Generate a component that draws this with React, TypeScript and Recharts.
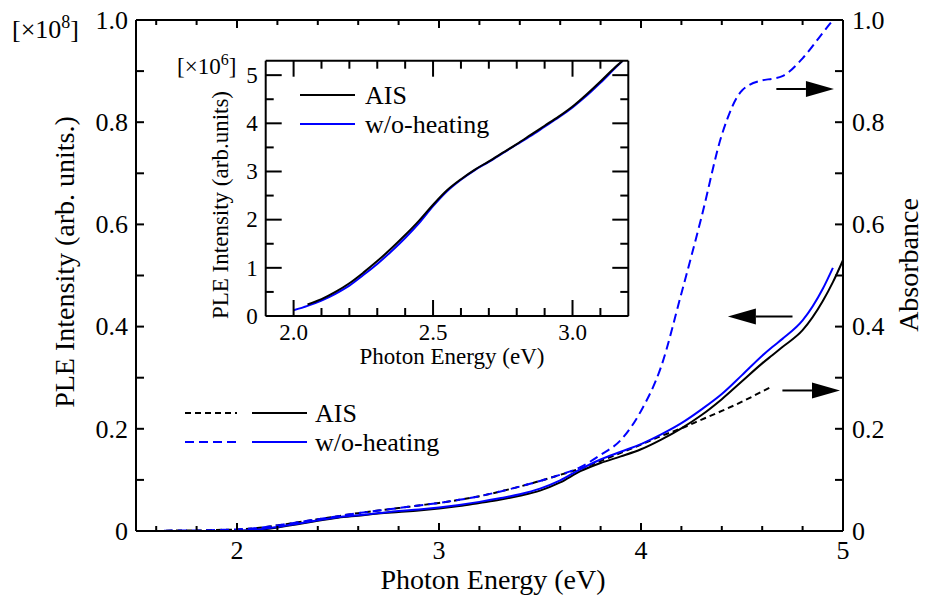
import React from 'react';
import { LineChart, Line, XAxis, YAxis, ReferenceLine } from 'recharts';

// main panel: photon energy (eV)
const energy = [1.5, 1.6, 1.7, 1.8, 1.9, 2.0, 2.1, 2.2, 2.3, 2.4, 2.5, 2.6, 2.7, 2.8, 2.9, 3.0, 3.1, 3.2, 3.3, 3.4, 3.5, 3.6, 3.7, 3.8, 3.9, 4.0, 4.1, 4.2, 4.3, 4.4, 4.5, 4.6, 4.65, 4.7, 4.8, 4.9, 4.95, 5.0];

// absorbance (dashed)
const aisAbs = [0, 0, 0.001, 0.001, 0.002, 0.003, 0.006, 0.011, 0.017, 0.023, 0.029, 0.035, 0.04, 0.045, 0.05, 0.055, 0.061, 0.068, 0.077, 0.087, 0.098, 0.11, 0.122, 0.137, 0.153, 0.169, 0.186, 0.201, 0.218, 0.235, 0.253, 0.273, 0.283, null, null, null, null, null];
const wohAbs = [0, 0, 0.001, 0.001, 0.002, 0.003, 0.006, 0.011, 0.017, 0.023, 0.029, 0.035, 0.04, 0.045, 0.05, 0.055, 0.061, 0.068, 0.077, 0.087, 0.098, 0.11, 0.125, 0.149, 0.178, 0.235, 0.322, 0.465, 0.615, 0.775, 0.862, 0.882, 0.885, 0.89, 0.925, 0.975, 1.0, null];

// PLE intensity x10^8 (solid)
const aisPle = [null, null, null, null, null, 0, 0.002, 0.007, 0.013, 0.02, 0.026, 0.03, 0.034, 0.037, 0.04, 0.044, 0.049, 0.055, 0.061, 0.069, 0.079, 0.095, 0.117, 0.133, 0.146, 0.16, 0.179, 0.201, 0.227, 0.258, 0.293, 0.328, 0.344, 0.36, 0.393, 0.45, 0.487, 0.53];
const wohPle = [null, null, null, null, null, 0, 0.003, 0.008, 0.014, 0.021, 0.027, 0.031, 0.035, 0.039, 0.042, 0.046, 0.051, 0.057, 0.064, 0.072, 0.083, 0.099, 0.121, 0.14, 0.155, 0.17, 0.189, 0.211, 0.238, 0.268, 0.305, 0.343, 0.36, 0.376, 0.412, 0.474, 0.515, null];

// inset: PLE intensity x10^6
const insetEnergy = [2.0, 2.05, 2.1, 2.15, 2.2, 2.25, 2.3, 2.35, 2.4, 2.45, 2.5, 2.55, 2.6, 2.65, 2.7, 2.75, 2.8, 2.85, 2.9, 2.95, 3.0, 3.05, 3.1, 3.15, 3.18];
const insetAis = [null, 0.24, 0.35, 0.5, 0.68, 0.9, 1.14, 1.4, 1.68, 1.98, 2.31, 2.61, 2.84, 3.04, 3.21, 3.39, 3.57, 3.76, 3.95, 4.14, 4.35, 4.6, 4.87, 5.15, 5.3];
const insetWoh = [0.12, 0.21, 0.32, 0.46, 0.63, 0.85, 1.08, 1.34, 1.62, 1.93, 2.28, 2.59, 2.83, 3.03, 3.2, 3.38, 3.56, 3.74, 3.93, 4.12, 4.33, 4.57, 4.84, 5.13, 5.3];

// ticks
const xTicks = [1.6, 1.8, 2, 2.2, 2.4, 2.6, 2.8, 3, 3.2, 3.4, 3.6, 3.8, 4, 4.2, 4.4, 4.6, 4.8, 5];
const xMajor = [2, 3, 4, 5];
const yTicks = [0, 0.1, 0.2, 0.3, 0.4, 0.5, 0.6, 0.7, 0.8, 0.9, 1.0];
const yMajor = [0, 0.2, 0.4, 0.6, 0.8, 1.0];
const insetXTicks = [2.0, 2.1, 2.2, 2.3, 2.4, 2.5, 2.6, 2.7, 2.8, 2.9, 3.0, 3.1];
const insetXMajor = [2.0, 2.5, 3.0];
const insetYTicks = [0, 0.5, 1, 1.5, 2, 2.5, 3, 3.5, 4, 4.5, 5];
const insetYMajor = [0, 1, 2, 3, 4, 5];

const FONT = 'Liberation Serif, DejaVu Serif';

const mainData = energy.map((e, i) => ({ e, aisAbs: aisAbs[i], wohAbs: wohAbs[i], aisPle: aisPle[i], wohPle: wohPle[i] }));
const insetData = insetEnergy.map((e, i) => ({ e, ais: insetAis[i], woh: insetWoh[i] }));

type Side = 'bottom' | 'top' | 'left' | 'right';

// ticks point inwards, labels only on major ticks
const makeTick = (side: Side, majors: number[], fmt: ((v: number) => string) | null, majorLen: number, minorLen: number, fontSize: number, gap: number) =>
  (props: any) => {
    const { x, y, payload } = props;
    const v = payload.value;
    const isMajor = majors.some((m) => Math.abs(m - v) < 1e-6);
    const len = isMajor ? majorLen : minorLen;
    const showLabel = isMajor && fmt;
    const ts = { fontFamily: FONT, fontSize };
    let line;
    let label = null;
    if (side === 'bottom') {
      line = <line x1={x} y1={y} x2={x} y2={y - len} stroke="#000" strokeWidth={2} />;
      if (showLabel) label = <text x={x} y={y + gap} textAnchor="middle" style={ts} fill="#000">{fmt!(v)}</text>;
    } else if (side === 'top') {
      line = <line x1={x} y1={y} x2={x} y2={y + len} stroke="#000" strokeWidth={2} />;
    } else if (side === 'left') {
      line = <line x1={x} y1={y} x2={x + len} y2={y} stroke="#000" strokeWidth={2} />;
      if (showLabel) label = <text x={x - gap} y={y + fontSize * 0.34} textAnchor="end" style={ts} fill="#000">{fmt!(v)}</text>;
    } else {
      line = <line x1={x} y1={y} x2={x - len} y2={y} stroke="#000" strokeWidth={2} />;
      if (showLabel) label = <text x={x + gap} y={y + fontSize * 0.34} textAnchor="start" style={ts} fill="#000">{fmt!(v)}</text>;
    }
    return <g>{line}{label}</g>;
  };

const fmtY = (v: number) => (v === 0 ? '0' : v.toFixed(1));
const fmtInt = (v: number) => String(Math.round(v));
const fmtOne = (v: number) => v.toFixed(1);

const Arrow = (props: any) => {
  const { x1, y1, x2, y2 } = props;
  const dir = x2 > x1 ? 1 : -1;
  const bx = x2 - dir * 28;
  return (
    <g>
      <line x1={x1} y1={y1} x2={bx} y2={y2} stroke="#000" strokeWidth={2} />
      <polygon points={`${x2},${y2} ${bx},${y2 - 8} ${bx},${y2 + 8}`} fill="#000" />
    </g>
  );
};

const axisStyle = { stroke: '#000', strokeWidth: 2 };
const t28 = { fontFamily: FONT, fontSize: 28 };
const t26 = { fontFamily: FONT, fontSize: 26 };
const t23 = { fontFamily: FONT, fontSize: 23 };

export default function App() {
  return (
    <div style={{ position: 'absolute', left: 0, top: 0, width: 925, height: 600, background: '#fff', fontFamily: FONT }}>
      <LineChart width={925} height={600} data={mainData} margin={{ top: 10, right: 22, bottom: 19, left: 76 }}>
        <XAxis xAxisId="b" dataKey="e" type="number" domain={[1.5, 5]} allowDataOverflow ticks={xTicks} interval={0}
          tickSize={0} tickMargin={0} tickLine={false} axisLine={axisStyle} height={50}
          tick={makeTick('bottom', xMajor, fmtInt, 8, 5, 26, 28)} />
        <XAxis xAxisId="t" orientation="top" dataKey="e" type="number" domain={[1.5, 5]} allowDataOverflow ticks={xTicks} interval={0}
          tickSize={0} tickMargin={0} tickLine={false} axisLine={axisStyle} height={10}
          tick={makeTick('top', xMajor, null, 8, 5, 26, 0)} />
        <YAxis yAxisId="l" type="number" domain={[0, 1]} allowDataOverflow ticks={yTicks} interval={0}
          tickSize={0} tickMargin={0} tickLine={false} axisLine={axisStyle} width={60}
          tick={makeTick('left', yMajor, fmtY, 8, 8, 26, 8)} />
        <YAxis yAxisId="r" orientation="right" type="number" domain={[0, 1]} allowDataOverflow ticks={yTicks} interval={0}
          tickSize={0} tickMargin={0} tickLine={false} axisLine={axisStyle} width={60}
          tick={makeTick('right', yMajor, fmtY, 8, 8, 26, 9)} />
        <Line xAxisId="b" yAxisId="l" type="monotone" dataKey="aisAbs" stroke="#000" strokeWidth={2} strokeDasharray="6 4" dot={false} isAnimationActive={false} />
        <Line xAxisId="b" yAxisId="l" type="monotone" dataKey="wohAbs" stroke="#0000ff" strokeWidth={2} strokeDasharray="9 5" dot={false} isAnimationActive={false} />
        <Line xAxisId="b" yAxisId="l" type="monotone" dataKey="aisPle" stroke="#000" strokeWidth={2} dot={false} isAnimationActive={false} />
        <Line xAxisId="b" yAxisId="l" type="monotone" dataKey="wohPle" stroke="#0000ff" strokeWidth={2} dot={false} isAnimationActive={false} />
        <ReferenceLine xAxisId="b" yAxisId="l" segment={[{ x: 4.67, y: 0.865 }, { x: 4.955, y: 0.865 }]} shape={Arrow} />
        <ReferenceLine xAxisId="b" yAxisId="l" segment={[{ x: 4.75, y: 0.42 }, { x: 4.43, y: 0.42 }]} shape={Arrow} />
        <ReferenceLine xAxisId="b" yAxisId="l" segment={[{ x: 4.7, y: 0.275 }, { x: 4.985, y: 0.275 }]} shape={Arrow} />
        {/* titles */}
        <text x={493} y={589} textAnchor="middle" style={t28}>Photon Energy (eV)</text>
        <text transform="translate(74,262) rotate(-90)" textAnchor="middle" style={t28}>PLE Intensity (arb. units.)</text>
        <text transform="translate(918,265) rotate(-90)" textAnchor="middle" style={t28}>Absorbance</text>
        <text x={12} y={38} style={t26}>[×10<tspan dy={-10} style={{ fontSize: 18 }}>8</tspan><tspan dy={10}>]</tspan></text>
        {/* legend */}
        <line x1={185} y1={413} x2={237} y2={413} stroke="#000" strokeWidth={2} strokeDasharray="6 4" />
        <line x1={252} y1={413} x2={307} y2={413} stroke="#000" strokeWidth={2} />
        <text x={315} y={422} style={t26}>AIS</text>
        <line x1={185} y1={442} x2={237} y2={442} stroke="#0000ff" strokeWidth={2} strokeDasharray="9 5" />
        <line x1={252} y1={442} x2={307} y2={442} stroke="#0000ff" strokeWidth={2} />
        <text x={315} y={451} style={t26}>w/o-heating</text>
      </LineChart>

      <div style={{ position: 'absolute', left: 150, top: 40 }}>
        <LineChart width={490} height={340} data={insetData} margin={{ top: 10.7, right: 1.7, bottom: 24, left: 55.7 }}>
          <XAxis xAxisId="b" dataKey="e" type="number" domain={[1.9, 3.2]} allowDataOverflow ticks={insetXTicks} interval={0}
            tickSize={0} tickMargin={0} tickLine={false} axisLine={axisStyle} height={40}
            tick={makeTick('bottom', insetXMajor, fmtOne, 16, 8, 23, 24)} />
          <XAxis xAxisId="t" orientation="top" dataKey="e" type="number" domain={[1.9, 3.2]} allowDataOverflow ticks={insetXTicks} interval={0}
            tickSize={0} tickMargin={0} tickLine={false} axisLine={axisStyle} height={10}
            tick={makeTick('top', insetXMajor, null, 16, 8, 23, 0)} />
          <YAxis yAxisId="l" type="number" domain={[0, 5.3]} allowDataOverflow ticks={insetYTicks} interval={0}
            tickSize={0} tickMargin={0} tickLine={false} axisLine={axisStyle} width={60}
            tick={makeTick('left', insetYMajor, fmtInt, 16, 8, 23, 8)} />
          <YAxis yAxisId="r" orientation="right" type="number" domain={[0, 5.3]} allowDataOverflow ticks={insetYTicks} interval={0}
            tickSize={0} tickMargin={0} tickLine={false} axisLine={axisStyle} width={10}
            tick={makeTick('right', insetYMajor, null, 16, 8, 23, 0)} />
          <Line xAxisId="b" yAxisId="l" type="monotone" dataKey="woh" stroke="#0000ff" strokeWidth={2} dot={false} isAnimationActive={false} />
          <Line xAxisId="b" yAxisId="l" type="monotone" dataKey="ais" stroke="#000" strokeWidth={2} dot={false} isAnimationActive={false} />
          <text x={302} y={324} textAnchor="middle" style={t23}>Photon Energy (eV)</text>
          <text transform="translate(78,165) rotate(-90)" textAnchor="middle" style={t23}>PLE Intensity (arb.units)</text>
          <text x={27} y={34} style={t23}>[×10<tspan dy={-9} style={{ fontSize: 16 }}>6</tspan><tspan dy={9}>]</tspan></text>
          <line x1={150} y1={55} x2={205} y2={55} stroke="#000" strokeWidth={2} />
          <text x={215} y={64} style={t26}>AIS</text>
          <line x1={150} y1={84} x2={205} y2={84} stroke="#0000ff" strokeWidth={2} />
          <text x={215} y={93} style={t26}>w/o-heating</text>
        </LineChart>
      </div>
    </div>
  );
}
